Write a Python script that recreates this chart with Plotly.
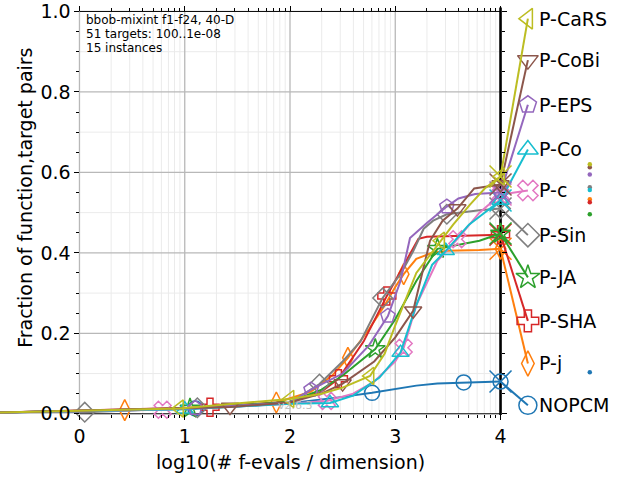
import math
import plotly.graph_objects as go

# ---------------- data ----------------
algorithms = ["NOPCM", "P-j", "P-SHA", "P-JA", "P-Sin", "P-c", "P-Co", "P-EPS", "P-CoBi", "P-CaRS"]
colors = ["#1f77b4", "#ff7f0e", "#d62728", "#2ca02c", "#7f7f7f", "#e377c2", "#17becf", "#9467bd", "#8c564b", "#bcbd22"]
symbols = ["circle-open", "diamond-tall-open", "cross-open", "star-open", "diamond-open", "x-open",
           "triangle-up-open", "pentagon-open", "triangle-down-open", "triangle-left-open"]

# ECDF curves: x = log10(# f-evals / dimension), y = fraction of (function, target) pairs
nopcm_x = [-0.76, 0.0, 1.0, 1.5, 2.0, 2.3, 2.5, 2.78, 3.0, 3.2, 3.4, 3.65, 3.85, 4.0]
nopcm_y = [0.003, 0.006, 0.012, 0.018, 0.026, 0.035, 0.042, 0.052, 0.062, 0.070, 0.075, 0.078, 0.079, 0.080]
pj_x = [-0.76, 0.43, 1.0, 1.87, 2.2, 2.4, 2.55, 2.75, 2.9, 3.0, 3.08, 3.2, 3.35, 3.5, 3.8, 4.0]
pj_y = [0.003, 0.009, 0.014, 0.028, 0.055, 0.095, 0.139, 0.21, 0.27, 0.315, 0.347, 0.385, 0.40, 0.405, 0.407, 0.41]
psha_x = [-0.76, 1.24, 2.0, 2.3, 2.46, 2.7, 2.92, 3.05, 3.14, 3.22, 3.3, 3.6, 4.0]
psha_y = [0.003, 0.016, 0.030, 0.055, 0.087, 0.18, 0.293, 0.355, 0.40, 0.435, 0.44, 0.442, 0.445]
pja_x = [-0.76, 1.05, 2.0, 2.3, 2.5, 2.81, 3.0, 3.2, 3.4, 3.6, 3.8, 4.0]
pja_y = [0.003, 0.013, 0.030, 0.06, 0.095, 0.161, 0.235, 0.33, 0.41, 0.42, 0.43, 0.448]
psin_x = [-0.76, 0.05, 1.12, 2.0, 2.28, 2.5, 2.67, 2.88, 3.0, 3.05, 3.17, 3.27, 3.36, 3.49, 3.8, 4.0]
psin_y = [0.003, 0.004, 0.015, 0.027, 0.074, 0.13, 0.18, 0.288, 0.33, 0.347, 0.404, 0.46, 0.48, 0.496, 0.506, 0.51]
pc_x = [-0.76, 0.79, 2.0, 2.35, 2.6, 2.8, 3.0, 3.08, 3.2, 3.4, 3.59, 3.8, 4.0]
pc_y = [0.003, 0.010, 0.025, 0.032, 0.05, 0.08, 0.13, 0.164, 0.27, 0.38, 0.434, 0.50, 0.545]
pco_x = [-0.76, 1.0, 2.0, 2.38, 2.6, 2.85, 3.05, 3.2, 3.35, 3.48, 3.7, 3.9, 4.0]
pco_y = [0.003, 0.011, 0.025, 0.027, 0.045, 0.09, 0.152, 0.27, 0.37, 0.405, 0.47, 0.51, 0.53]
peps_x = [-0.76, 1.1, 2.0, 2.2, 2.5, 2.75, 2.93, 3.05, 3.14, 3.3, 3.49, 3.6, 3.76, 4.0]
peps_y = [0.003, 0.014, 0.028, 0.06, 0.10, 0.17, 0.243, 0.33, 0.437, 0.474, 0.515, 0.535, 0.546, 0.55]
pcobi_x = [-0.76, 1.43, 2.0, 2.3, 2.5, 2.8, 3.0, 3.17, 3.33, 3.45, 3.59, 3.75, 4.0]
pcobi_y = [0.003, 0.017, 0.028, 0.05, 0.075, 0.13, 0.19, 0.256, 0.43, 0.48, 0.51, 0.56, 0.57]
pcars_x = [-0.76, 0.95, 2.0, 2.3, 2.5, 2.76, 2.9, 3.0, 3.2, 3.43, 3.55, 3.71, 3.85, 4.0]
pcars_y = [0.003, 0.013, 0.037, 0.05, 0.065, 0.094, 0.15, 0.22, 0.35, 0.43, 0.47, 0.52, 0.56, 0.59]

# marker positions along each curve
nopcm_mx = [1.1, 2.78, 3.65, 4.0]
pj_mx = [0.43, 1.87, 2.55, 3.08, 4.0]
psha_mx = [1.24, 2.46, 2.92, 4.0]
pja_mx = [1.05, 2.81, 3.4, 4.0]
psin_mx = [0.05, 1.12, 2.28, 2.88, 3.49, 4.0]
pc_mx = [0.79, 2.35, 3.08, 3.59, 4.0]
pco_mx = [1.0, 2.38, 3.05, 3.48, 4.0]
peps_mx = [1.1, 2.2, 2.93, 3.49, 4.0]
pcobi_mx = [1.43, 2.5, 3.17, 3.59, 4.0]
pcars_mx = [0.95, 2.0, 2.76, 3.43, 4.0]

# label heights (right-hand legend) and final small dots
label_y = [0.021, 0.125, 0.231, 0.339, 0.444, 0.555, 0.657, 0.768, 0.879, 0.982]
dot_y = [0.103, 0.533, 0.526, 0.496, 0.563, None, 0.556, 0.595, 0.613, 0.620]

x_ticks = [0, 1, 2, 3, 4]
y_ticks = [0.0, 0.2, 0.4, 0.6, 0.8, 1.0]
info_lines = ["bbob-mixint f1-f24, 40-D", "51 targets: 100..1e-08", "15 instances"]

curves_x = [nopcm_x, pj_x, psha_x, pja_x, psin_x, pc_x, pco_x, peps_x, pcobi_x, pcars_x]
curves_y = [nopcm_y, pj_y, psha_y, pja_y, psin_y, pc_y, pco_y, peps_y, pcobi_y, pcars_y]
markers_x = [nopcm_mx, pj_mx, psha_mx, pja_mx, psin_mx, pc_mx, pco_mx, peps_mx, pcobi_mx, pcars_mx]

# ---------------- geometry of the frame ----------------
X0, X1 = -0.755, 5.325
Y0, Y1 = -0.1646, 1.0235
XLAB = 4.26
XTEXT = 4.35
XDOT = 4.848


def px(v):
    return (v - X0) / (X1 - X0)


def py(v):
    return (v - Y0) / (Y1 - Y0)


def interp(xs, ys, x):
    for i in range(len(xs) - 1):
        if xs[i] <= x <= xs[i + 1]:
            t = (x - xs[i]) / (xs[i + 1] - xs[i])
            return ys[i] + t * (ys[i + 1] - ys[i])
    return ys[-1]


FONT = "DejaVu Sans"
fig = go.Figure()

for i, name in enumerate(algorithms):
    xs, ys = curves_x[i], curves_y[i]
    col = colors[i]
    fig.add_trace(go.Scatter(x=xs, y=ys, mode="lines", line=dict(color=col, width=2),
                             showlegend=False, hoverinfo="skip"))
    mx = markers_x[i]
    my = [interp(xs, ys, v) for v in mx]
    fig.add_trace(go.Scatter(x=mx, y=my, mode="markers", cliponaxis=False,
                             marker=dict(symbol=symbols[i], size=15, color=col,
                                         line=dict(color=col, width=1.5)),
                             showlegend=False, hoverinfo="skip"))
    fig.add_trace(go.Scatter(x=[xs[-1]], y=[ys[-1]], mode="markers", cliponaxis=False,
                             marker=dict(symbol="x-thin-open", size=22, color=col,
                                         line=dict(color=col, width=1.5)),
                             showlegend=False, hoverinfo="skip"))
    fig.add_trace(go.Scatter(x=[xs[-1], XLAB], y=[ys[-1], label_y[i]], mode="lines",
                             line=dict(color=col, width=2), showlegend=False, hoverinfo="skip"))
    fig.add_trace(go.Scatter(x=[XLAB], y=[label_y[i]], mode="markers", cliponaxis=False,
                             marker=dict(symbol=symbols[i], size=18, color=col,
                                         line=dict(color=col, width=1.5)),
                             showlegend=False, hoverinfo="skip"))
    if dot_y[i] is not None:
        fig.add_trace(go.Scatter(x=[XDOT], y=[dot_y[i]], mode="markers",
                                 marker=dict(symbol="circle", size=4.5, color=col),
                                 showlegend=False, hoverinfo="skip"))
    fig.add_annotation(x=XTEXT, y=label_y[i], text=name, showarrow=False, xanchor="left",
                       yanchor="middle", font=dict(family=FONT, size=19, color="black"))

fig.add_trace(go.Scatter(x=[0], y=[0], xaxis="x2", yaxis="y2", mode="markers",
                         marker=dict(size=1, opacity=0), showlegend=False, hoverinfo="skip"))

# ---------------- grid & spines as shapes ----------------
shapes = []
minor_x = [d + math.log10(k) for d in range(4) for k in range(2, 10)]
for v in minor_x:
    shapes.append(dict(type="line", x0=v, x1=v, y0=0, y1=1, xref="x", yref="y", layer="below",
                       line=dict(color="#ebebeb", width=1)))
for v in [0.1, 0.3, 0.5, 0.7, 0.9]:
    shapes.append(dict(type="line", x0=0, x1=4, y0=v, y1=v, xref="x", yref="y", layer="below",
                       line=dict(color="#ebebeb", width=1)))
for v in x_ticks[:-1]:
    shapes.append(dict(type="line", x0=v, x1=v, y0=0, y1=1, xref="x", yref="y", layer="below",
                       line=dict(color="#b8b8b8", width=1.3)))
for v in y_ticks[1:-1]:
    shapes.append(dict(type="line", x0=0, x1=4, y0=v, y1=v, xref="x", yref="y", layer="below",
                       line=dict(color="#b8b8b8", width=1.3)))
shapes.append(dict(type="line", x0=0, x1=4, y0=1, y1=1, xref="x", yref="y", layer="below",
                   line=dict(color="black", width=1)))
shapes.append(dict(type="line", x0=0, x1=4, y0=0, y1=0, xref="x", yref="y", layer="below",
                   line=dict(color="black", width=1)))
shapes.append(dict(type="line", x0=4, x1=4, y0=-0.003, y1=1.01, xref="x", yref="y", layer="below",
                   line=dict(color="black", width=2.6)))

# ---------------- text ----------------
for j, t in enumerate(info_lines):
    fig.add_annotation(x=0.04, y=0.978 - 0.034 * j, text=t, showarrow=False, xanchor="left",
                       yanchor="middle", font=dict(family=FONT, size=12, color="black"))
fig.add_annotation(x=2.24, y=0.021, text="v2.6.3", showarrow=False, xanchor="right", yanchor="middle",
                   font=dict(family=FONT, size=11, color="#c0c0c0"))
fig.add_annotation(x=2.0, y=-0.12, text="log10(# f-evals / dimension)", showarrow=False,
                   xanchor="center", yanchor="middle", font=dict(family=FONT, size=19, color="black"))
fig.add_annotation(x=-0.52, y=0.536, text="Fraction of function,target pairs", showarrow=False,
                   textangle=-90, xanchor="center", yanchor="middle",
                   font=dict(family=FONT, size=19, color="black"))

minor_y = [round(0.05 * k, 2) for k in range(21)]
tickfont = dict(family=FONT, size=19, color="black")

fig.update_layout(
    width=640, height=480, margin=dict(l=0, r=0, t=0, b=0),
    paper_bgcolor="white", plot_bgcolor="white", showlegend=False,
    shapes=shapes,
    xaxis=dict(range=[X0, X1], anchor="free", position=py(0), showgrid=False, zeroline=False,
               showline=False, tickvals=x_ticks, ticktext=[str(v) for v in x_ticks],
               ticks="outside", ticklen=5, tickwidth=1, tickcolor="black", tickfont=tickfont,
               ticklabeloverflow="allow",
               minor=dict(tickvals=minor_x, ticks="outside", ticklen=3, tickcolor="black", showgrid=False),
               fixedrange=True),
    xaxis2=dict(range=[X0, X1], overlaying="x", anchor="free", position=py(1), side="top",
                showgrid=False, zeroline=False, showline=False, tickvals=x_ticks, showticklabels=False,
                ticks="outside", ticklen=5, tickcolor="black",
                minor=dict(tickvals=minor_x, ticks="outside", ticklen=3, tickcolor="black", showgrid=False)),
    yaxis=dict(range=[Y0, Y1], anchor="free", position=px(0), showgrid=False, zeroline=False,
               showline=False, tickvals=y_ticks, ticktext=["%.1f" % v for v in y_ticks],
               ticks="outside", ticklen=5, tickwidth=1, tickcolor="black", tickfont=tickfont,
               ticklabeloverflow="allow",
               minor=dict(tickvals=minor_y, ticks="outside", ticklen=3, tickcolor="black", showgrid=False),
               fixedrange=True),
    yaxis2=dict(range=[Y0, Y1], overlaying="y", anchor="free", position=px(4), side="right",
                showgrid=False, zeroline=False, showline=False, tickvals=y_ticks, showticklabels=False,
                ticks="outside", ticklen=5, tickcolor="black",
                minor=dict(tickvals=minor_y, ticks="outside", ticklen=3, tickcolor="black", showgrid=False)),
)

fig.write_html("out.html", config={"displayModeBar": False},
               post_script="document.body.style.margin='0';")
